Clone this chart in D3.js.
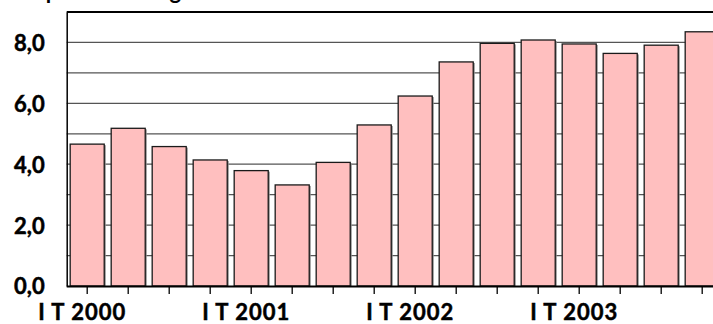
<!DOCTYPE html>
<html>
<head>
<meta charset="utf-8">
<script src="https://cdn.jsdelivr.net/npm/d3@7"></script>
<style>
  html, body { margin: 0; padding: 0; background: #fff; }
  svg { display: block; }
  text { font-family: Lato, "Open Sans", sans-serif; font-weight: 700; fill: #000; }
</style>
</head>
<body>
<svg id="chart" width="713" height="324"></svg>
<script>
// Quarterly series, Q1 2000 – Q4 2003
const quarters = ["2000Q1","2000Q2","2000Q3","2000Q4",
                  "2001Q1","2001Q2","2001Q3","2001Q4",
                  "2002Q1","2002Q2","2002Q3","2002Q4",
                  "2003Q1","2003Q2","2003Q3","2003Q4"];
const values = [4.66, 5.18, 4.58, 4.14, 3.79, 3.32, 4.06, 5.29,
                6.24, 7.36, 7.97, 8.08, 7.95, 7.64, 7.91, 8.35];
const yTicks = [0, 2, 4, 6, 8];
const gridValues = [1, 2, 3, 4, 5, 6, 7, 8];
const yearLabels = { "2000Q1": "I T 2000", "2001Q1": "I T 2001",
                     "2002Q1": "I T 2002", "2003Q1": "I T 2003" };
const title = "Tempo di attesa: giorni";

const svg = d3.select("#chart");
const plotLeft = 66.7, plotTop = 12, plotBottom = 286, plotRight = 713;
const step = 41;

const x = d3.scaleBand()
  .domain(quarters)
  .range([plotLeft, plotLeft + step * quarters.length])
  .paddingInner(0.17)
  .paddingOuter(0.085);

const y = d3.scaleLinear().domain([0, 9]).range([plotBottom, plotTop]);

// title (sits mostly above the visible area)
svg.append("text")
  .attr("x", 5).attr("y", -1)
  .attr("font-size", 22)
  .text(title);

// horizontal gridlines
svg.append("g").selectAll("line")
  .data(gridValues)
  .join("line")
  .attr("x1", plotLeft).attr("x2", plotRight)
  .attr("y1", d => y(d)).attr("y2", d => y(d))
  .attr("stroke", "#555").attr("stroke-width", 1.2);

// top border
svg.append("line")
  .attr("x1", plotLeft).attr("x2", plotRight)
  .attr("y1", plotTop).attr("y2", plotTop)
  .attr("stroke", "#000").attr("stroke-width", 2);

// bar shadows
svg.append("g").selectAll("rect")
  .data(quarters)
  .join("rect")
  .attr("x", d => x(d) + 1.5)
  .attr("y", (d, i) => y(values[i]) + 1)
  .attr("width", x.bandwidth())
  .attr("height", (d, i) => plotBottom - y(values[i]) - 1)
  .attr("fill", "#888");

// bars
svg.append("g").selectAll("rect")
  .data(quarters)
  .join("rect")
  .attr("x", d => x(d))
  .attr("y", (d, i) => y(values[i]))
  .attr("width", x.bandwidth())
  .attr("height", (d, i) => plotBottom - y(values[i]))
  .attr("fill", "#ffbfbf")
  .attr("stroke", "#1a1a1a")
  .attr("stroke-width", 1.3);

// y axis
const yAxis = d3.axisLeft(y)
  .tickValues(yTicks)
  .tickSize(0)
  .tickPadding(22)
  .tickFormat(d => d3.format(".1f")(d).replace(".", ","));
const gy = svg.append("g")
  .attr("transform", `translate(${plotLeft},0)`)
  .call(yAxis);
gy.select(".domain").attr("stroke", "#000").attr("stroke-width", 1.5);
gy.selectAll("text")
  .attr("font-size", 22)
  .attr("font-family", "Lato, sans-serif")
  .attr("font-weight", 700)
  .attr("stroke", "#000")
  .attr("stroke-width", 0.5)
  .attr("dy", "0.36em");

// x axis with ticks at every quarter, labels at first quarters
const xAxis = d3.axisBottom(x)
  .tickSize(8)
  .tickPadding(11)
  .tickFormat(d => yearLabels[d] || "");
const gx = svg.append("g")
  .attr("transform", `translate(0,${plotBottom})`)
  .call(xAxis);
gx.select(".domain").attr("stroke", "#000").attr("stroke-width", 2)
  .attr("d", `M${plotLeft},0.5H${plotRight}`);
gx.selectAll(".tick line").attr("stroke", "#000").attr("stroke-width", 1.3);
gx.selectAll("text")
  .attr("font-size", 22)
  .attr("font-family", "Lato, sans-serif")
  .attr("font-weight", 700)
  .attr("stroke", "#000")
  .attr("stroke-width", 0.5)
  .attr("letter-spacing", "1px")
  .attr("dx", -5)
  .attr("dy", "0.68em");
</script>
</body>
</html>
